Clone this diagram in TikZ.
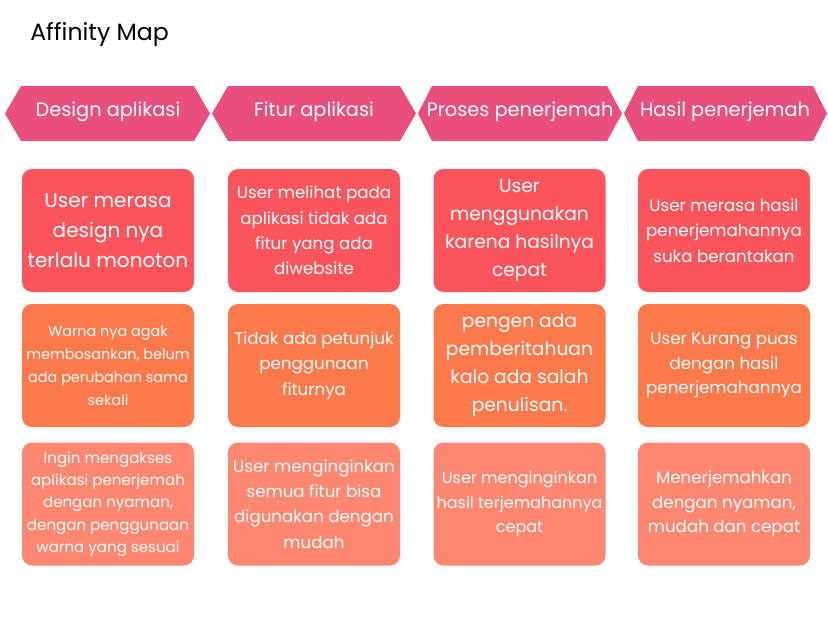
\documentclass[tikz,border=0pt]{standalone}
\usepackage{fontspec}
\setmainfont{Poppins}
\definecolor{hdr}{HTML}{E84F7C}
\definecolor{rowa}{HTML}{FA555D}
\definecolor{rowb}{HTML}{FC794B}
\definecolor{rowc}{HTML}{FD8771}
\newcommand{\fs}[2]{\fontsize{#1}{#2}\selectfont}
\begin{document}
\begin{tikzpicture}[x=0.75pt,y=-0.75pt]
\tikzset{
  card/.style={rounded corners=7.5pt, minimum width=129pt, minimum height=92.25pt, inner sep=0pt, align=center, text=white},
  hdrtext/.style={text=white, font=\fs{14.5}{17}},
}
\useasboundingbox (0,0) rectangle (828,621);
\fill[white] (0,0) rectangle (828,621);
% title
\node[anchor=base west, inner sep=0pt, font=\fs{17.7}{21}] (title) at (30,40) {Affinity Map};
% headers
\fill[hdr] (5,113.5) -- (21,86) -- (194,86) -- (210,113.5) -- (194,141) -- (21,141) -- cycle;
\fill[hdr] (212,113.5) -- (228,86) -- (400,86) -- (416,113.5) -- (400,141) -- (228,141) -- cycle;
\fill[hdr] (418,113.5) -- (432,86) -- (607,86) -- (622,113.5) -- (607,141) -- (432,141) -- cycle;
\fill[hdr] (624,113.5) -- (638,86) -- (813,86) -- (827,113.5) -- (813,141) -- (638,141) -- cycle;
\node[hdrtext] (h1) at (108,112) {Design aplikasi};
\node[hdrtext] (h2) at (314,112) {Fitur aplikasi};
\node[hdrtext] (h3) at (520,112) {Proses penerjemah};
\node[hdrtext] (h4) at (725,112) {Hasil penerjemah};
% row 1
\node[card, fill=rowa, font=\fs{15}{22.5}] (a1) at (108,230.5) {User merasa\\design nya\\terlalu monoton};
\node[card, fill=rowa, font=\fs{12.5}{19}] (a2) at (314,230.5) {User melihat pada\\aplikasi tidak ada\\fitur yang ada\\diwebsite};
\node[card, fill=rowa, font=\fs{14}{21}] (a3) at (519.5,230.5) {User\\menggunakan\\karena hasilnya\\cepat};
\node[card, fill=rowa, font=\fs{12.5}{19}] (a4) at (724,230.5) {User merasa hasil\\penerjemahannya\\suka berantakan};
% row 2
\node[card, fill=rowb, font=\fs{10.8}{17.25}] (b1) at (108,365.5) {Warna nya agak\\membosankan, belum\\ada perubahan sama\\sekali};
\node[card, fill=rowb, font=\fs{12.5}{19}] (b2) at (314,365.5) {Tidak ada petunjuk\\penggunaan\\fiturnya};
\node[card, fill=rowb, font=\fs{14}{21}] (b3) at (519.5,365.5) {pengen ada\\pemberitahuan\\kalo ada salah\\penulisan.};
\node[card, fill=rowb, font=\fs{12.5}{18.5}] (b4) at (724,365.5) {User Kurang puas\\dengan hasil\\penerjemahannya};
% row 3
\node[card, fill=rowc, font=\fs{11.3}{16.75}] (c1) at (108,504) {Ingin mengakses\\aplikasi penerjemah\\dengan nyaman,\\dengan penggunaan\\warna yang sesuai};
\node[card, fill=rowc, font=\fs{12.5}{19}] (c2) at (314,504) {User menginginkan\\semua fitur bisa\\digunakan dengan\\mudah};
\node[card, fill=rowc, font=\fs{12}{18.5}] (c3) at (519.5,504) {User menginginkan\\hasil terjemahannya\\cepat};
\node[card, fill=rowc, font=\fs{12.5}{18.5}] (c4) at (724,504) {Menerjemahkan\\dengan nyaman,\\mudah dan cepat};
\end{tikzpicture}
\end{document}
